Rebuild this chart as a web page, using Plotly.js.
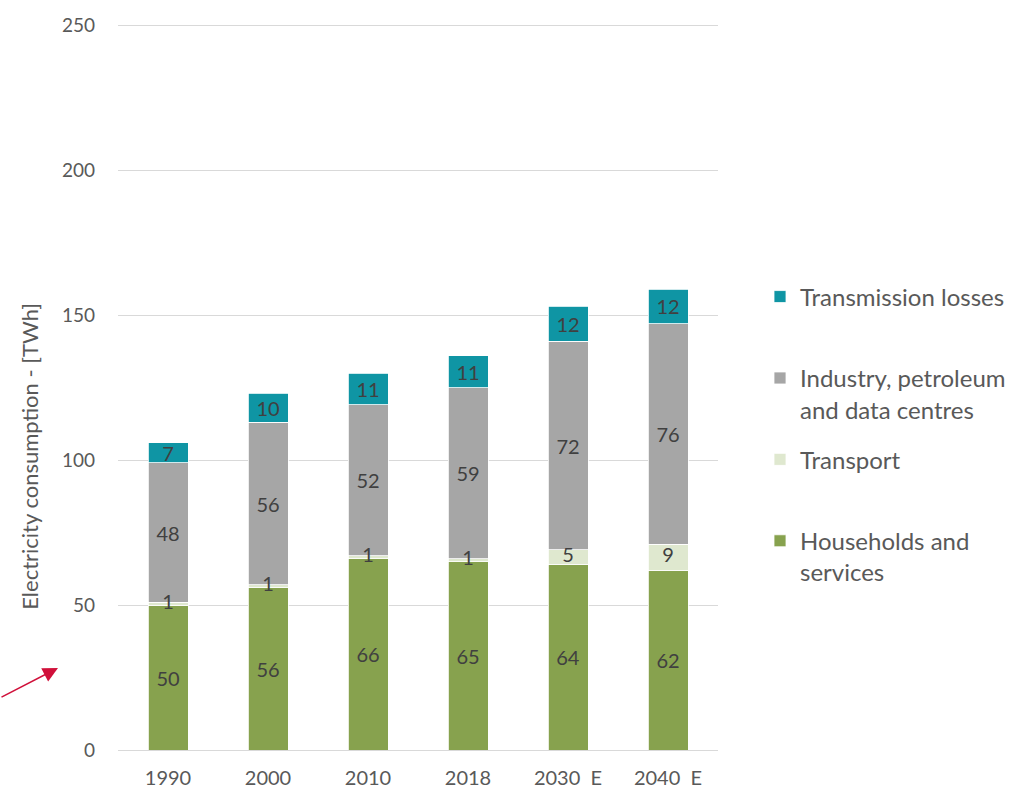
<!DOCTYPE html>
<html>
<head>
<meta charset="utf-8">
<script src="https://cdn.plot.ly/plotly-3.0.1.min.js"></script>
<style>html,body{margin:0;padding:0;background:#fff;}#chart{width:1027px;height:792px;}</style>
</head>
<body>
<div id="chart"></div>
<script>
var years = ["1990", "2000", "2010", "2018", "2030  E", "2040  E"];
var households = [50, 56, 66, 65, 64, 62];
var transport = [1, 1, 1, 1, 5, 9];
var industry = [48, 56, 52, 59, 72, 76];
var losses = [7, 10, 11, 11, 12, 12];
var seriesNames = ["Households and<br>services", "Transport<br> ", "Industry, petroleum<br>and data centres", "Transmission losses<br> "];
var seriesColors = ["#87a24e", "#dfe8cf", "#a6a6a6", "#0f95a4"];
var legendRanks = [4, 3, 2, 1];
var yTicks = [0, 50, 100, 150, 200, 250];
var yTitle = "Electricity consumption - [TWh]";

var FONT = "Lato, 'Open Sans', sans-serif";
var LABEL_FONT = { family: FONT, size: 20, color: "#404040" };
var seriesData = [households, transport, industry, losses];
var traces = seriesData.map(function (vals, i) {
  var isTransport = (i === 1);
  return {
    type: "bar",
    x: years,
    y: vals,
    name: seriesNames[i],
    legendgroup: "g" + i,
    legendrank: legendRanks[i],
    width: 0.4,
    marker: { color: seriesColors[i], line: { color: "#ffffff", width: 0.8 } },
    text: vals.map(String),
    textposition: isTransport ? "none" : "inside",
    insidetextanchor: "middle",
    constraintext: "none",
    textangle: 0,
    textfont: LABEL_FONT,
    hoverinfo: "x+y+name"
  };
});

// Transport labels (thin segments) drawn as a text trace at each segment's middle
traces.push({
  type: "scatter",
  mode: "text",
  x: years,
  y: households.map(function (h, i) { return h + transport[i] / 2; }),
  text: transport.map(String),
  textposition: "middle center",
  textfont: LABEL_FONT,
  showlegend: false,
  cliponaxis: false,
  hoverinfo: "skip"
});

var layout = {
  width: 1027,
  height: 792,
  barmode: "stack",
  bargap: 0.6,
  paper_bgcolor: "#ffffff",
  plot_bgcolor: "#ffffff",
  margin: { l: 118, r: 309, t: 24, b: 42, pad: 0 },
  font: { family: FONT, color: "#595959", size: 18 },
  xaxis: {
    type: "category",
    tickfont: { family: FONT, size: 20, color: "#595959" },
    showgrid: false,
    showline: false,
    zeroline: false,
    ticks: "",
    ticklen: 0,
    ticklabelstandoff: 14
  },
  yaxis: {
    range: [0, 250.4],
    tickvals: yTicks,
    ticktext: yTicks.map(String),
    showgrid: true,
    gridcolor: "#d9d9d9",
    gridwidth: 1,
    zeroline: true,
    zerolinecolor: "#d9d9d9",
    zerolinewidth: 1,
    showline: false,
    ticks: "",
    ticklabelstandoff: 22,
    tickfont: { family: FONT, size: 19, color: "#595959" }
  },
  legend: {
    x: 1.07,
    xanchor: "left",
    y: 0.655,
    yanchor: "top",
    traceorder: "grouped",
    tracegroupgap: 16,
    valign: "top",
    itemclick: false,
    font: { family: FONT, size: 24, color: "#595959" },
    bgcolor: "rgba(0,0,0,0)"
  },
  showlegend: true,
  annotations: [{
    xref: "paper", yref: "paper",
    x: -0.147, y: 0.405,
    xanchor: "center", yanchor: "middle",
    text: yTitle,
    textangle: -90,
    showarrow: false,
    font: { family: FONT, size: 22, color: "#595959" }
  }, {
    xref: "paper", yref: "paper",
    x: -0.1, y: 0.113,
    ax: -60, ay: 30,
    axref: "pixel", ayref: "pixel",
    text: "",
    showarrow: true,
    arrowhead: 2,
    arrowsize: 2,
    arrowwidth: 1.5,
    arrowcolor: "#d0103a"
  }]
};

Plotly.newPlot("chart", traces, layout, { displayModeBar: false, staticPlot: true });
</script>
</body>
</html>
